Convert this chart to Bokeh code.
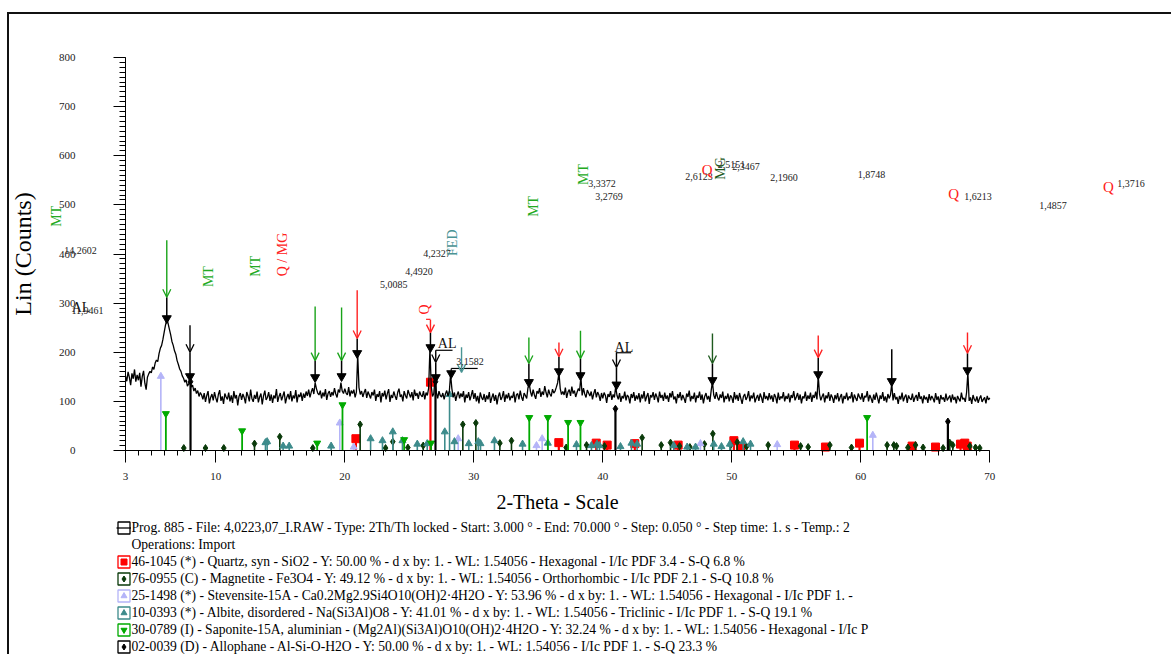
from math import pi, nan
from bokeh.plotting import figure
from bokeh.models import (FixedTicker, Label, Arrow, OpenHead, Legend, LegendItem,
                          ColumnDataSource, Range1d)
from bokeh.core.properties import value
from bokeh.embed import file_html
from bokeh.resources import INLINE

FONT = "Liberation Serif"

# ---------------- measured pattern (2-Theta scan) ----------------
scan_start = 3.0
scan_step = 0.1
counts = [
    152,141,160,149,133,157,146,165,140,154,
    143,158,130,151,162,137,124,149,156,161,
    158,170,165,178,184,181,197,208,214,226,
    241,255,266,259,247,236,222,214,203,196,
    183,175,166,161,152,147,139,144,131,136,
    148,129,133,121,127,116,122,110,118,113,
    104,117,99,112,121,96,108,115,102,119,
    107,98,114,123,101,110,95,116,109,104,
    118,100,112,97,121,106,113,92,110,117,
    103,115,108,96,119,111,100,124,106,99,
    113,105,120,98,109,116,94,111,122,103,
    108,119,101,114,97,112,106,125,99,110,
    117,102,111,120,96,108,115,104,121,100,
    112,106,123,98,114,109,118,101,116,107,
    120,111,124,108,119,127,115,138,126,117,
    113,122,106,118,110,125,103,116,121,109,
    119,112,127,115,108,124,118,138,121,116,
    126,117,113,129,110,122,116,124,108,119,
    195,128,114,121,109,118,125,107,120,113,
    106,119,112,124,101,115,109,121,98,117,
    110,122,104,116,125,99,113,107,120,111,
    103,118,126,109,114,100,121,112,106,123,
    115,108,119,102,124,111,117,105,120,113,
    109,121,104,118,112,127,208,131,110,116,
    150,118,106,121,112,109,117,104,115,122,
    111,119,155,126,108,118,101,113,120,106,
    116,109,121,98,114,107,119,102,112,123,
    105,117,100,111,96,118,108,103,115,99,
    112,104,119,97,108,116,101,113,94,110,
    118,103,109,121,99,114,106,117,102,111,
    107,120,98,113,116,104,122,109,101,117,
    112,106,128,136,119,110,124,113,105,121,
    116,127,109,120,113,131,118,108,124,115,
    110,125,117,121,129,138,158,126,114,120,
    113,128,107,119,124,111,130,116,122,109,
    118,126,121,150,112,127,115,108,123,117,
    111,120,104,116,125,108,119,113,101,117,
    106,118,112,97,115,109,121,103,114,108,
    130,112,104,117,99,111,106,120,102,113,
    109,96,115,107,119,101,112,104,117,98,
    114,106,121,100,110,117,95,113,108,119,
    103,116,109,98,120,107,113,101,118,105,
    112,99,117,108,121,104,110,96,115,107,
    119,102,113,106,97,116,109,122,100,111,
    105,118,98,112,107,120,103,114,96,110,
    117,104,111,99,122,140,113,105,119,108,
    102,114,107,120,98,111,105,116,100,112,
    108,97,119,104,113,101,117,106,95,110,
    115,103,109,121,100,112,106,118,98,107,
    113,101,116,108,97,119,105,111,102,117,
    104,112,99,115,109,96,118,103,110,106,
    119,100,111,105,116,98,113,107,121,102,
    109,117,103,114,96,110,106,120,101,112,
    105,118,99,113,107,120,104,152,115,102,
    110,116,98,112,106,119,101,114,108,97,
    113,104,117,100,109,115,96,111,105,118,
    102,110,106,119,98,114,107,101,116,109,
    104,117,99,111,108,121,100,113,106,97,
    114,103,118,107,96,112,105,119,101,110,
    98,115,106,113,136,102,117,104,109,95,
    111,104,118,100,109,114,97,112,106,103,
    116,99,108,113,101,119,105,110,96,112,
    104,109,97,115,102,111,106,98,117,103,
    110,95,113,104,108,99,116,102,107,112,
    98,114,103,109,96,111,105,100,118,104,
    107,99,118,158,101,108,95,113,104,100,
    110,97,106,112,99,104,108,96,111,103,
    107,
]
two_theta = [round(scan_start + i * scan_step, 2) for i in range(len(counts))]

# ---------------- reference patterns (stick positions / heights) ----------------
quartz_x = [20.86, 26.64, 36.59, 39.49, 40.34, 42.48, 45.84, 50.16, 50.67, 54.86, 57.26, 59.9, 63.98, 65.79, 67.73, 68.06, 68.25]
quartz_h = [24, 139, 16, 15, 11, 14, 11, 20, 8, 11, 7, 15, 9, 7, 13, 15, 9]

magnetite_x = [7.52, 9.2, 10.62, 13.0, 14.96, 17.52, 21.19, 23.16, 23.72, 24.89, 26.08, 29.15, 30.16, 32.02, 32.92,
               37.16, 38.74, 40.13, 43.05, 44.53, 45.25, 45.95, 46.75, 47.88, 48.53, 49.9, 50.42, 51.14, 52.82,
               55.33, 55.92, 57.6, 59.28, 62.04, 62.56, 62.77, 63.65, 64.24, 64.83, 66.38, 66.9, 67.13, 68.45, 68.89, 69.22]
magnetite_h = [5, 5, 5, 14, 28, 5, 53, 5, 18, 6, 10, 53, 56, 15, 20,
               6, 11, 9, 26, 11, 16, 9, 7, 13, 34, 11, 17, 8, 11,
               9, 7, 11, 6, 11, 11, 9, 6, 11, 6, 5, 16, 11, 9, 6, 5]

stevensite_x = [5.74, 19.61, 20.69, 28.79, 34.86, 35.3, 47.57, 53.52, 60.93]
stevensite_h = [151, 56, 7, 24, 10, 24, 14, 12, 31]

albite_x = [13.85, 13.98, 15.22, 15.69, 18.94, 22.0, 22.92, 23.72, 24.47, 25.62, 26.39, 27.75, 28.12, 28.5,
            29.61, 30.35, 30.52, 31.6, 33.78, 35.74, 37.96, 39.12, 39.55, 39.74, 41.37, 42.22, 42.66,
            45.5, 46.54, 47.19, 48.6, 49.2, 49.85, 50.88, 51.45]
albite_h = [16, 18, 9, 9, 9, 24, 20, 38, 20, 13, 14, 38, 114, 18,
            14, 18, 14, 20, 13, 15, 12, 10, 13, 10, 8, 15, 13,
            10, 7, 7, 13, 8, 13, 18, 13]

saponite_x = [6.13, 12.04, 17.86, 19.82, 24.6, 26.69, 34.3, 35.74, 37.31, 38.27, 60.49]
saponite_h = [75, 40, 15, 93, 22, 15, 67, 67, 57, 57, 67]

allophane_x = [8.04, 27.03, 40.98, 66.75]
allophane_h = [140, 140, 85, 59]

# ---------------- axes ----------------
x_ticks = [3, 10, 20, 30, 40, 50, 60, 70]
x_minor = list(range(3, 71))
y_ticks = [0, 100, 200, 300, 400, 500, 600, 700, 800]
y_minor = list(range(0, 801, 10))

# ---------------- texts ----------------
pattern_label = ("Prog. 885 - File: 4,0223,07_I.RAW - Type: 2Th/Th locked - Start: 3.000 ° - End: 70.000 ° "
                 "- Step: 0.050 ° - Step time: 1. s - Temp.: 2")
operations_label = "Operations: Import"
phase_labels = [
    "46-1045 (*) - Quartz, syn - SiO2 - Y: 50.00 % - d x by: 1. - WL: 1.54056 - Hexagonal - I/Ic PDF 3.4 - S-Q 6.8 %",
    "76-0955 (C) - Magnetite - Fe3O4 - Y: 49.12 % - d x by: 1. - WL: 1.54056 - Orthorhombic - I/Ic PDF 2.1 - S-Q 10.8 %",
    "25-1498 (*) - Stevensite-15A - Ca0.2Mg2.9Si4O10(OH)2·4H2O - Y: 53.96 % - d x by: 1. - WL: 1.54056 - Hexagonal - I/Ic PDF 1. -",
    "10-0393 (*) - Albite, disordered - Na(Si3Al)O8 - Y: 41.01 % - d x by: 1. - WL: 1.54056 - Triclinic - I/Ic PDF 1. - S-Q 19.1 %",
    "30-0789 (I) - Saponite-15A, aluminian - (Mg2Al)(Si3Al)O10(OH)2·4H2O - Y: 32.24 % - d x by: 1. - WL: 1.54056 - Hexagonal - I/Ic P",
    "02-0039 (D) - Allophane - Al-Si-O-H2O - Y: 50.00 % - d x by: 1. - WL: 1.54056 - I/Ic PDF 1. - S-Q 23.3 %",
]

# peak identification arrows: x, arrow top, arrow head, colour
arrow_x = [6.2, 8.0, 17.7, 19.75, 20.96, 26.64, 27.05, 29.05, 34.27, 36.6, 38.27, 41.06, 48.5, 56.7, 68.27]
arrow_top = [428, 255, 293, 291, 326, 266, 204, 210, 230, 220, 244, 200, 238, 234, 240]
arrow_head = [312, 200, 183, 183, 228, 240, 179, 159, 177, 191, 187, 169, 177, 189, 198]
arrow_col = ["#19A319", "black", "#19A319", "#19A319", "#FF2020", "#FF2020", "black", "#4A9494",
             "#19A319", "#FF2020", "#19A319", "black", "#1E5A1E", "#FF2020", "#FF2020"]

# peak markers: x, top of marker line, peak top
peak_x = [6.2, 8.0, 17.7, 19.75, 20.96, 26.64, 27.05, 28.25, 34.27, 36.6, 38.27, 41.06, 48.5, 56.7, 62.4, 68.27]
peak_line_top = [312, 200, 183, 183, 228, 240, 179, 157, 177, 191, 187, 169, 177, 189, 206, 198]
peak_top = [269, 151, 149, 151, 198, 210, 149, 157, 139, 161, 153, 134, 143, 155, 141, 163]

# label leader lines
lead_x0 = [27.05, 41.06, 28.25, 28.25, 26.3]
lead_y0 = [204, 199, 157, 167, 267]
lead_x1 = [28.35, 42.2, 28.25, 30.3, 26.64]
lead_y1 = [204, 199, 167, 167, 267]
lead_col = ["black", "black", "black", "black", "#FF2020"]

# annotation texts: text, x, y, size, colour, rotated
ann_text = ["MT", "14,2602", "AL", "11,9461", "MT", "MT", "Q / MG", "5,0085", "4,4920", "4,2327", "FED",
            "Q", "AL", "3,1582", "MT", "MT", "3,3372", "3,2769", "AL", "2,6123", "Q", "MG", "2,5151", "2,3467",
            "2,1960", "1,8748", "Q", "1,6213", "1,4857", "Q", "1,3716"]
ann_x = [-2.35, -0.49, -0.45, 0.05, 9.43, 13.08, 15.17, 23.8, 25.75, 27.15, 28.35,
         26.2, 27.93, 29.7, 34.6, 38.5, 39.94, 40.48, 41.64, 47.46, 48.1, 49.1, 49.98, 51.1,
         54.05, 60.83, 67.2, 69.08, 74.9, 79.2, 80.95]
ann_y = [477, 407, 291, 285, 354, 375, 399, 338, 365, 402, 423,
         287, 218, 181, 497, 562, 543, 517, 210, 557, 572, 574, 582, 579,
         556, 562, 523, 518, 499, 536, 544]
ann_size = [14, 10, 14, 10, 14, 14, 14, 10, 10, 10, 14,
            14, 14, 10, 14, 14, 10, 10, 14, 10, 15, 14, 10, 10,
            10, 10, 15, 10, 10, 15, 10]
ann_col = ["#22AA22", "#222222", "#111111", "#222222", "#22AA22", "#22AA22", "#FF2020", "#222222", "#222222", "#222222", "#4A9494",
           "#FF2020", "#111111", "#222222", "#22AA22", "#22AA22", "#222222", "#222222", "#111111", "#222222", "#FF2020", "#1E5A1E", "#222222", "#222222",
           "#222222", "#222222", "#FF2020", "#222222", "#222222", "#FF2020", "#222222"]
ann_rot = [1, 0, 0, 0, 1, 1, 1, 0, 0, 0, 1,
           1, 0, 0, 1, 1, 0, 0, 0, 0, 0, 1, 0, 0,
           0, 0, 0, 0, 0, 0, 0]

# ---------------- figure ----------------
# the plotting frame covers the whole canvas so that texts lying outside the
# 3-70 / 0-800 axes area are not clipped; axes sit at fixed data locations.
W, H = 1164, 642
PX_PER_DEG = 12.9
PX_PER_COUNT = 0.49125
x0 = 3 - (125 - 9) / PX_PER_DEG
y0 = -(656 - 450) / PX_PER_COUNT
p = figure(width=W, height=H,
           x_range=Range1d(x0, x0 + W / PX_PER_DEG),
           y_range=Range1d(y0, y0 + H / PX_PER_COUNT),
           output_backend="svg", toolbar_location=None,
           min_border_left=0, min_border_right=0, min_border_top=0, min_border_bottom=0)
p.margin = (12, 0, 0, 7)
p.styles = {"border-left": "2px solid #111", "border-top": "2px solid #111"}
p.outline_line_color = None
p.xgrid.visible = False
p.ygrid.visible = False
p.background_fill_color = "white"
p.border_fill_color = "white"

for ax in (p.xaxis[0], p.yaxis[0]):
    ax.axis_line_color = "black"
    ax.major_tick_line_color = "black"
    ax.minor_tick_line_color = "black"
    ax.major_tick_in = 0
    ax.minor_tick_in = 0
    ax.major_label_text_font = FONT
    ax.major_label_text_font_size = "11px"
    ax.major_label_text_color = "#222222"
    ax.axis_label_text_font = FONT
    ax.axis_label_text_font_style = "normal"
    ax.axis_label_text_color = "black"

p.xaxis.fixed_location = 0
p.xaxis.bounds = (3, 70)
p.xaxis.ticker = FixedTicker(ticks=x_ticks, minor_ticks=x_minor)
p.xaxis.major_tick_out = 12
p.xaxis.minor_tick_out = 5
p.xaxis.major_label_standoff = 10
p.xaxis.axis_label = "2-Theta - Scale"
p.xaxis.axis_label_text_font_size = "20px"
p.xaxis.axis_label_standoff = 8

p.yaxis.fixed_location = 3
p.yaxis.bounds = (0, 800)
p.yaxis.ticker = FixedTicker(ticks=y_ticks, minor_ticks=y_minor)
p.yaxis.major_tick_out = 12
p.yaxis.minor_tick_out = 6
p.yaxis.major_label_standoff = 38
p.yaxis.axis_label = "Lin (Counts)"
p.yaxis.axis_label_text_font_size = "24px"
p.yaxis.axis_label_standoff = 20

phases = [
    ("quartz", quartz_x, quartz_h, "#FF0000", "square", 8, 2.2),
    ("magnetite", magnetite_x, magnetite_h, "#0A3A0A", "diamond", 7, 1.6),
    ("stevensite", stevensite_x, stevensite_h, "#B4B4F8", "triangle", 7, 1.6),
    ("albite", albite_x, albite_h, "#3D8B8B", "triangle", 7, 1.6),
    ("saponite", saponite_x, saponite_h, "#00AA00", "inverted_triangle", 7, 1.8),
    ("allophane", allophane_x, allophane_h, "black", "diamond", 7, 2.2),
]

marker_renderers = []
for name, xs, hs, col, mk, sz, lw in phases:
    src = ColumnDataSource(dict(x=xs, h=hs))
    p.segment(x0="x", y0=0, x1="x", y1="h", source=src, line_color=col, line_width=lw)
    marker_renderers.append(p.scatter("x", "h", source=src, marker=mk, size=sz,
                                      fill_color=col, line_color=col))

pattern_r = p.line(two_theta, counts, line_color="black", line_width=1.3)

# peak markers and arrows
psrc = ColumnDataSource(dict(x=peak_x, top=peak_line_top, pk=peak_top))
p.segment(x0="x", y0="top", x1="x", y1="pk", source=psrc, line_color="black", line_width=1.5)
p.scatter("x", "pk", source=psrc, marker="inverted_triangle", size=9, fill_color="black", line_color="black")

for x, t, h, c in zip(arrow_x, arrow_top, arrow_head, arrow_col):
    p.add_layout(Arrow(end=OpenHead(size=8, line_color=c, line_width=1.3),
                       x_start=x, y_start=t, x_end=x, y_end=h, line_color=c, line_width=1.4))

p.segment(x0=lead_x0, y0=lead_y0, x1=lead_x1, y1=lead_y1, line_color=lead_col, line_width=1.2)

for t, x, y, s, c, r in zip(ann_text, ann_x, ann_y, ann_size, ann_col, ann_rot):
    p.add_layout(Label(x=x, y=y, text=t, text_font=FONT, text_font_size=f"{s}px", text_color=c,
                       text_align="center", text_baseline="middle", angle=pi / 2 if r else 0))

# ---------------- legend ----------------
# legend-only icon frames: a single NaN box draws nothing in the plot itself
def icon_box(col):
    return p.quad(left=[nan], right=[nan], top=[nan], bottom=[nan],
                  fill_color="white", line_color=col, line_width=1.3)

blank = p.scatter(x=[nan], y=[nan], fill_alpha=0, line_alpha=0)
items = [LegendItem(label=value(pattern_label), renderers=[icon_box("black"), pattern_r]),
         LegendItem(label=value(operations_label), renderers=[blank])]
for (name, xs, hs, col, mk, sz, lw), mr, lab in zip(phases, marker_renderers, phase_labels):
    items.append(LegendItem(label=value(lab), renderers=[icon_box(col), mr]))

legend = Legend(items=items, location=(106.5, 1), orientation="vertical",
                label_text_font=FONT, label_text_font_size="13.6px", label_text_color="black",
                label_height=17, glyph_height=15, glyph_width=15, label_standoff=1,
                spacing=0, padding=0, margin=0, border_line_color=None, background_fill_alpha=0)
p.add_layout(legend)

open("out.html", "w").write(file_html(p, INLINE))
